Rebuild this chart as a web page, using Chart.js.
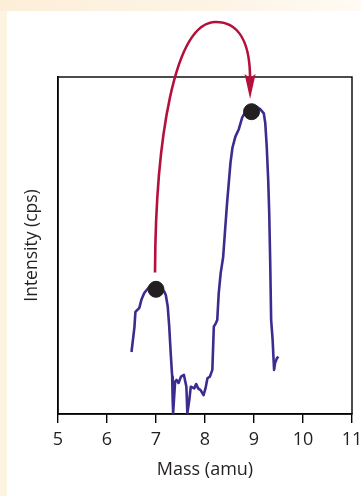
<!DOCTYPE html>
<html>
<head>
<meta charset="utf-8">
<script src="https://cdn.jsdelivr.net/npm/chart.js@4.4.1/dist/chart.umd.min.js"></script>
<style>
  html, body { margin: 0; padding: 0; width: 361px; height: 496px; overflow: hidden; background: #fcf3e2; }
  #topStrip { position: absolute; left: 0; top: 0; width: 361px; height: 11px;
    background: linear-gradient(to right, #fcefd9, #fdf4e6 60%, #fffaf3); }
  #panel { position: absolute; left: 7px; top: 11px; width: 354px; height: 485px; background: #ffffff; }
  #c { position: absolute; left: 0; top: 0; }
</style>
</head>
<body>
<div id="topStrip"></div>
<div id="panel"></div>
<canvas id="c" width="361" height="496"></canvas>
<script>
// ---- data ----
const massValues = [6.50, 6.56, 6.58, 6.66, 6.70, 6.76, 6.86, 6.95, 7.05, 7.17, 7.20, 7.24, 7.27, 7.30, 7.33, 7.34, 7.35,
  7.39, 7.42, 7.46, 7.51, 7.57, 7.62, 7.64, 7.68, 7.71, 7.78, 7.82, 7.86, 7.91, 7.97, 8.01, 8.05, 8.10, 8.15,
  8.18, 8.22, 8.25, 8.28, 8.32, 8.37, 8.41, 8.45, 8.49, 8.52, 8.56, 8.62, 8.69, 8.76, 8.83, 8.95, 9.05, 9.13,
  9.20, 9.23, 9.26, 9.29, 9.31, 9.33, 9.35, 9.38, 9.40, 9.41, 9.43, 9.47, 9.50];
const intensityValues = [18.4, 25.8, 30.3, 31.5, 33.8, 35.9, 37.7, 38.3, 38.0, 36.3, 35.3, 31.8, 25.9, 18.1, 11.1, 4.2, 0.3,
  9.6, 10.1, 9.2, 11.1, 11.6, 8.1, 0.3, 4.2, 8.1, 7.6, 8.9, 7.6, 7.1, 5.6, 7.6, 10.6, 11.1, 13.1,
  25.9, 26.9, 27.9, 35.8, 41.8, 46.5, 54.6, 62.5, 69.4, 74.5, 79.0, 82.3, 84.5, 88.0, 89.8, 91.0, 91.2, 90.4,
  89.2, 86.3, 79.3, 69.4, 60.0, 45.7, 27.9, 22.0, 16.0, 13.1, 15.1, 16.6, 17.0];
const peakMass = [7.0, 8.95];
const peakIntensity = [37.0, 89.7];
const xTickValues = [5, 6, 7, 8, 9, 10, 11];
const xTitle = 'Mass (amu)';
const yTitle = 'Intensity (cps)';
// arrow annotation path (data units): start, cubic 1 (cp1, cp2, end), cubic 2 (cp1, cp2, end), tip
const arrowMass = [6.98, 6.99, 7.37, 8.22, 8.59, 8.92, 8.92, 8.92];
const arrowIntensity = [42.0, 81.3, 116.3, 116.3, 116.3, 112.5, 100.6, 93.5];

const FONT = "'Open Sans', 'Noto Sans', sans-serif";
const TEXT = '#231f20';

const framePlugin = {
  id: 'frame',
  beforeDatasetsDraw(chart) {
    const {ctx, chartArea: a} = chart;
    ctx.save();
    ctx.strokeStyle = '#000';
    ctx.lineWidth = 1.4;
    ctx.strokeRect(a.left, a.top, a.right - a.left, a.bottom - a.top);
    ctx.restore();
  }
};

const arrowPlugin = {
  id: 'arrow',
  afterDraw(chart) {
    const {ctx, scales: {x, y}} = chart;
    const P = arrowMass.map((m, i) => [x.getPixelForValue(m), y.getPixelForValue(arrowIntensity[i])]);
    ctx.save();
    ctx.strokeStyle = '#b5103c';
    ctx.fillStyle = '#b5103c';
    ctx.lineWidth = 2.6;
    ctx.lineCap = 'butt';
    ctx.beginPath();
    ctx.moveTo(P[0][0], P[0][1]);
    ctx.bezierCurveTo(P[1][0], P[1][1], P[2][0], P[2][1], P[3][0], P[3][1]);
    ctx.bezierCurveTo(P[4][0], P[4][1], P[5][0], P[5][1], P[6][0], P[6][1] + 4);
    ctx.stroke();
    // arrowhead
    const tip = P[7], base = P[6];
    const hw = 5.5;
    ctx.beginPath();
    ctx.moveTo(tip[0], tip[1]);
    ctx.lineTo(base[0] - hw, base[1] - 1);
    ctx.quadraticCurveTo(base[0], base[1] + 4, base[0] + hw, base[1] - 1);
    ctx.closePath();
    ctx.fill();
    ctx.restore();
  }
};

new Chart(document.getElementById('c'), {
  type: 'scatter',
  data: {
    datasets: [
      {
        data: peakMass.map((m, i) => ({x: m, y: peakIntensity[i]})),
        backgroundColor: '#231f20',
        borderColor: '#231f20',
        pointRadius: 8,
        pointHoverRadius: 8,
        showLine: false,
        order: 0
      },
      {
        data: massValues.map((m, i) => ({x: m, y: intensityValues[i]})),
        showLine: true,
        borderColor: '#3d2b8f',
        borderWidth: 2.6,
        pointRadius: 0,
        tension: 0,
        borderJoinStyle: 'round',
        order: 1
      }
    ]
  },
  options: {
    responsive: false,
    devicePixelRatio: 1,
    animation: false,
    events: [],
    layout: { padding: { left: 0, top: 77, right: 7, bottom: 0 } },
    plugins: { legend: { display: false }, tooltip: { enabled: false } },
    scales: {
      x: {
        type: 'linear',
        min: 5, max: 11,
        afterBuildTicks(s) { s.ticks = xTickValues.map(v => ({value: v})); },
        afterFit(s) { s.height = 82; s.paddingLeft = 0; s.paddingRight = 0; },
        grid: { drawOnChartArea: false, drawTicks: true, tickLength: 9, color: '#000', lineWidth: 1.4 },
        border: { display: true, color: '#000', width: 1.4 },
        ticks: { color: TEXT, font: { family: FONT, size: 18 }, padding: 6, maxRotation: 0, autoSkip: false },
        title: { display: true, text: xTitle, color: TEXT, font: { family: FONT, size: 18 }, padding: { top: 0, bottom: 15 } }
      },
      y: {
        type: 'linear',
        min: 0, max: 100,
        afterFit(s) { s.width = 58; s.paddingTop = 0; s.paddingBottom = 0; },
        grid: { display: false, drawTicks: false },
        border: { display: true, color: '#000', width: 1.4 },
        ticks: { display: false },
        title: { display: true, text: yTitle, color: TEXT, font: { family: FONT, size: 17.5 }, padding: { top: 22, bottom: 0 } }
      }
    }
  },
  plugins: [framePlugin, arrowPlugin]
});
</script>
</body>
</html>
